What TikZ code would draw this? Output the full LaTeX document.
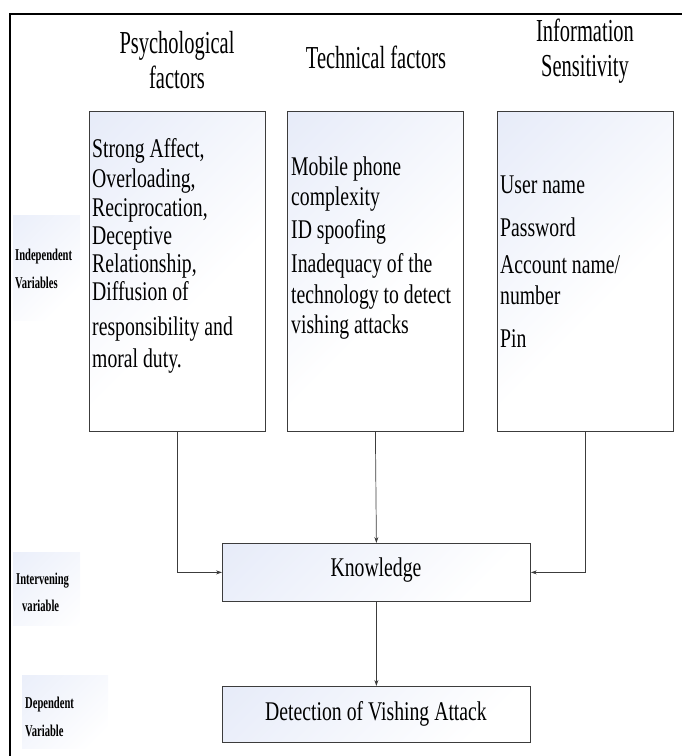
\documentclass[tikz,border=0pt]{standalone}
\usepackage{fontspec}
\setmainfont{Liberation Serif}[FakeStretch=0.73]
\newfontfamily\headfont{Liberation Serif}[FakeStretch=0.64]
\usetikzlibrary{arrows.meta}
\definecolor{boxblue}{RGB}{220,227,246}
\definecolor{sideblue}{RGB}{226,232,248}
\definecolor{linegray}{RGB}{60,60,60}
\tikzset{
  factorbox/.style={draw=linegray, line width=0.8pt, anchor=north west, inner sep=0pt,
    path picture={\shade[top color=boxblue, bottom color=white, middle color=white, shading angle=45]
      ([xshift=-150pt,yshift=150pt]path picture bounding box.north west) rectangle ++(600pt,-600pt);}},
  sidebg/.style={draw=none,
    path picture={\shade[top color=sideblue, bottom color=white, middle color=white, shading angle=45]
      ([xshift=-70pt,yshift=70pt]path picture bounding box.north west) rectangle ++(280pt,-280pt);}},
  bodyline/.style={anchor=west, inner sep=0pt, text height=0.7em, text depth=0.22em, yshift=-5pt,
    font=\fontsize{27}{30}\selectfont},
  headline/.style={anchor=center, inner sep=0pt, text height=0.7em, text depth=0.22em, yshift=-6pt,
    font=\headfont\fontsize{32}{34}\selectfont},
  sidelabel/.style={anchor=west, inner sep=0pt, text height=0.7em, text depth=0.22em, yshift=-3pt,
    font=\headfont\bfseries\fontsize{16.5}{18}\selectfont},
  conn/.style={draw=linegray, line width=0.7pt, -{Stealth[length=6pt,width=4pt]}}
}
\begin{document}
\begin{tikzpicture}[x=1pt,y=1pt]
\useasboundingbox (0,-756) rectangle (682,0);
% outer frame (top and left edges visible)
\draw[line width=2.6pt, line cap=rect] (10,-14) -- (690,-14);
\draw[line width=2.6pt] (10,-14) -- (10,-760);

% side label backgrounds
\path[sidebg] (13,-215) rectangle (80,-320);
\path[sidebg] (13,-552) rectangle (80,-625);
\path[sidebg] (22,-675) rectangle (108,-748);

% side labels
\node[sidelabel] (iv1) at (15,-255) {Independent};
\node[sidelabel] (iv2) at (15,-283) {Variables};
\node[sidelabel] (mv1) at (16,-579) {Intervening};
\node[sidelabel] (mv2) at (22,-606) {variable};
\node[sidelabel] (dv1) at (25,-703) {Dependent};
\node[sidelabel] (dv2) at (25,-731) {Variable};

% headings
\node[headline] (h1a) at (177,-45) {Psychological};
\node[headline] (h1b) at (177,-80) {factors};
\node[headline] (h2) at (376,-60) {Technical factors};
\node[headline] (h3a) at (585,-33) {Information};
\node[headline] (h3b) at (585,-68) {Sensitivity};

% factor boxes
\node[factorbox, minimum width=176, minimum height=320] (psy) at (89,-111) {};
\node[factorbox, minimum width=176, minimum height=320] (tech) at (287,-111) {};
\node[factorbox, minimum width=176, minimum height=320] (info) at (497,-111) {};

% box 1 text
\node[bodyline] (p1) at (92,-150) {Strong Affect,};
\node[bodyline] (p2) at (92,-180) {Overloading,};
\node[bodyline] (p3) at (92,-209) {Reciprocation,};
\node[bodyline] (p4) at (92,-237) {Deceptive};
\node[bodyline] (p5) at (92,-265) {Relationship,};
\node[bodyline] (p6) at (92,-293) {Diffusion of};
\node[bodyline] (p7) at (92,-328) {responsibility and};
\node[bodyline] (p8) at (92,-360) {moral duty.};

% box 2 text
\node[bodyline] (t1) at (291,-168) {Mobile phone};
\node[bodyline] (t2) at (291,-198) {complexity};
\node[bodyline] (t3) at (291,-231) {ID spoofing};
\node[bodyline] (t4) at (291,-265) {Inadequacy of the};
\node[bodyline] (t5) at (291,-296) {technology to detect};
\node[bodyline] (t6) at (291,-326) {vishing attacks};

% box 3 text
\node[bodyline] (s1) at (500,-186) {User name};
\node[bodyline] (s2) at (500,-229) {Password};
\node[bodyline] (s3) at (500,-266) {Account name/};
\node[bodyline] (s4) at (500,-297) {number};
\node[bodyline] (s5) at (500,-340) {Pin};

% knowledge and detection
\node[factorbox, minimum width=308, minimum height=58] (know) at (222,-543) {};
\node[bodyline, anchor=center] (knowt) at (376,-569) {Knowledge};
\node[factorbox, minimum width=308, minimum height=56] (det) at (222,-686) {};
\node[bodyline, anchor=center] (dett) at (376,-713) {Detection of Vishing Attack};

% connectors
\draw[conn] (psy.south) |- (know.west);
\draw[conn] (tech.south) -- (know.north);
\draw[conn] (info.south) |- (know.east);
\draw[conn] (know.south) -- (det.north);
\end{tikzpicture}
\end{document}
